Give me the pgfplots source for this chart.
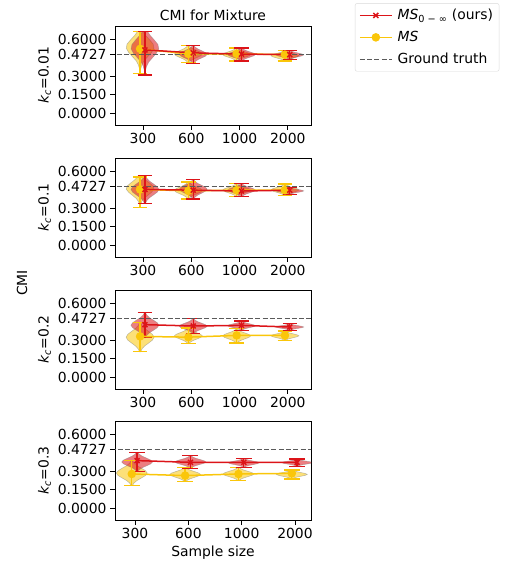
\documentclass[border=0pt]{standalone}
\usepackage{amsmath}
\usepackage{fontspec}
\setmainfont{DejaVu Sans}
\usepackage{pgfplots}
\usepackage{pgfplotstable}
\pgfplotsset{compat=1.18}

\definecolor{rcol}{RGB}{220,20,25}
\definecolor{ycol}{RGB}{250,198,10}
\definecolor{gtcol}{RGB}{90,90,90}
\newcommand\fs{\fontsize{13.9bp}{16bp}\selectfont}

% violin outline, normalised: t = position between min and max, s = signed half width
\pgfplotstableread{
t s
0 0.04
0.1 0.14
0.2 0.33
0.3 0.61
0.4 0.88
0.5 1
0.6 0.88
0.7 0.61
0.8 0.33
0.9 0.14
1 0.04
1 -0.04
0.9 -0.14
0.8 -0.33
0.7 -0.61
0.6 -0.88
0.5 -1
0.4 -0.88
0.3 -0.61
0.2 -0.33
0.1 -0.14
0 -0.04
}\pP
\pgfplotstableread{
t s
0 0.01
0.1 0.04
0.2 0.12
0.3 0.28
0.4 0.55
0.5 0.82
0.6 0.99
0.7 0.93
0.8 0.68
0.9 0.40
1 0.18
1 -0.18
0.9 -0.40
0.8 -0.68
0.7 -0.93
0.6 -0.99
0.5 -0.82
0.4 -0.55
0.3 -0.28
0.2 -0.12
0.1 -0.04
0 -0.01
}\pQ

% per panel: x, MS_0-inf mean/min/max, MS mean/min/max
\pgfplotstableread{
x rm rlo rhi ym ylo yhi
0 0.512 0.309 0.661 0.520 0.322 0.661
1 0.488 0.403 0.549 0.480 0.408 0.549
2 0.478 0.421 0.528 0.480 0.421 0.528
3 0.474 0.434 0.509 0.474 0.421 0.509
}\tA
\pgfplotstableread{
x rm rlo rhi ym ylo yhi
0 0.451 0.339 0.563 0.451 0.304 0.552
1 0.445 0.374 0.531 0.440 0.374 0.512
2 0.438 0.392 0.499 0.445 0.392 0.499
3 0.445 0.411 0.467 0.445 0.400 0.494
}\tB
\pgfplotstableread{
x rm rlo rhi ym ylo yhi
0 0.425 0.319 0.522 0.330 0.206 0.441
1 0.414 0.352 0.473 0.324 0.271 0.397
2 0.419 0.379 0.454 0.338 0.276 0.392
3 0.406 0.379 0.433 0.338 0.297 0.373
}\tC
\pgfplotstableread{
x rm rlo rhi ym ylo yhi
0 0.385 0.296 0.452 0.277 0.183 0.385
1 0.371 0.323 0.425 0.264 0.215 0.331
2 0.371 0.331 0.403 0.277 0.223 0.331
3 0.371 0.339 0.398 0.282 0.237 0.310
}\tD

\newcommand{\vio}[5]{%
  \addplot[fill=#5, fill opacity=0.55, draw=gray, draw opacity=0.5, line width=0.5bp, forget plot]
    table[x expr=#1+0.29*\thisrow{s}, y expr=#2+(#3-#2)*\thisrow{t}] {#4} -- cycle;
}
% extrema: vertical bar from min to max, caps at both ends
\newcommand{\bars}[4]{% table, offset, column prefix, colour
  \addplot[draw=#4, color=#4, line width=1.3bp, forget plot,
    quiver={u=0, v=\thisrow{#3hi}-\thisrow{#3lo}, every arrow/.append style={draw=#4}}]
    table[x expr=\thisrow{x}+(#2), y=#3lo] {#1};
  \addplot[draw=#4, color=#4, line width=1.3bp, forget plot,
    quiver={u=0.3, v=0, every arrow/.append style={draw=#4}}]
    table[x expr=\thisrow{x}+(#2)-0.15, y=#3lo] {#1};
  \addplot[draw=#4, color=#4, line width=1.3bp, forget plot,
    quiver={u=0.3, v=0, every arrow/.append style={draw=#4}}]
    table[x expr=\thisrow{x}+(#2)-0.15, y=#3hi] {#1};
}
\newcommand{\means}[1]{%
  \addplot[gtcol, dash pattern=on 5bp off 2.3bp, line width=1.3bp]
    coordinates {(-1,0.4727) (5,0.4727)};
  \addplot[ycol, line width=1.5bp, mark=*, mark size=3.5bp, mark options={solid}]
    table[x expr=\thisrow{x}-0.06, y=ym] {#1};
  \addplot[rcol, line width=1.5bp, mark=x, mark size=3.5bp, mark options={solid}]
    table[x expr=\thisrow{x}+0.04, y=rm] {#1};
}

\pgfplotsset{panel/.style={
  scale only axis, width=196bp, height=99bp,
  anchor=north west,
  ymin=-0.095, ymax=0.705, xmin=-0.58, xmax=3.48,
  ytick={0,0.15,0.3,0.4727,0.6},
  yticklabels={0.0000,0.1500,0.3000,0.4727,0.6000},
  xtick={0,1,2,3}, xticklabels={300,600,1000,2000},
  xtick pos=bottom, ytick pos=left,
  tick align=outside, major tick length=5bp,
  tick style={black, line width=0.8bp},
  axis line style={black, line width=0.9bp},
  font=\fs, ticklabel style={font=\fs},
  /pgf/number format/assume math mode=true,
  label style={font=\fs},
}}

\begin{document}
\begin{tikzpicture}
\path[use as bounding box] (0,0) rectangle (510bp,-563bp);

\begin{axis}[panel, at={(115bp,-26bp)},
  title={CMI for Mixture}, title style={font=\fs, yshift=-4bp},
  ylabel={\textit{k}$_{\textit{c}}$=0.01},
  reverse legend,
  legend style={at={(1.224,1.23)}, anchor=north west, draw=gray!30,
    rounded corners=2bp, font=\fs, cells={anchor=west}, row sep=6bp,
    column sep=3bp, inner xsep=4bp, inner ysep=4bp},
  legend image code/.code={\draw[mark repeat=2, mark phase=2, #1]
    plot coordinates {(0bp,0bp) (16bp,0bp) (32bp,0bp)};}]
\vio{-0.06}{0.322}{0.661}{\pQ}{ycol}
\vio{0.94}{0.408}{0.549}{\pP}{ycol}
\vio{1.94}{0.421}{0.528}{\pP}{ycol}
\vio{2.94}{0.421}{0.509}{\pP}{ycol}
\vio{0.04}{0.309}{0.661}{\pQ}{rcol}
\vio{1.04}{0.403}{0.549}{\pP}{rcol}
\vio{2.04}{0.421}{0.528}{\pP}{rcol}
\vio{3.04}{0.434}{0.509}{\pP}{rcol}
\bars{\tA}{-0.06}{y}{ycol}
\bars{\tA}{0.04}{r}{rcol}
\means{\tA}
\addlegendentry{Ground truth}
\addlegendentry{\textit{MS}}
\addlegendentry{\textit{MS}$_{\text{0 − ∞}}$ (ours)}
\end{axis}

\begin{axis}[panel, at={(115bp,-158bp)}, ylabel={\textit{k}$_{\textit{c}}$=0.1}]
\vio{-0.06}{0.304}{0.552}{\pQ}{ycol}
\vio{0.94}{0.374}{0.512}{\pP}{ycol}
\vio{1.94}{0.392}{0.499}{\pP}{ycol}
\vio{2.94}{0.400}{0.494}{\pP}{ycol}
\vio{0.04}{0.339}{0.563}{\pP}{rcol}
\vio{1.04}{0.374}{0.531}{\pP}{rcol}
\vio{2.04}{0.392}{0.499}{\pP}{rcol}
\vio{3.04}{0.411}{0.467}{\pP}{rcol}
\bars{\tB}{-0.06}{y}{ycol}
\bars{\tB}{0.04}{r}{rcol}
\means{\tB}
\end{axis}

\begin{axis}[panel, at={(115bp,-290bp)}, ylabel={\textit{k}$_{\textit{c}}$=0.2}]
\vio{-0.06}{0.206}{0.441}{\pP}{ycol}
\vio{0.94}{0.271}{0.397}{\pP}{ycol}
\vio{1.94}{0.276}{0.392}{\pP}{ycol}
\vio{2.94}{0.297}{0.373}{\pP}{ycol}
\vio{0.04}{0.319}{0.522}{\pP}{rcol}
\vio{1.04}{0.352}{0.473}{\pP}{rcol}
\vio{2.04}{0.379}{0.454}{\pP}{rcol}
\vio{3.04}{0.379}{0.433}{\pP}{rcol}
\bars{\tC}{-0.06}{y}{ycol}
\bars{\tC}{0.04}{r}{rcol}
\means{\tC}
\end{axis}

\begin{axis}[panel, at={(115bp,-421bp)}, xmin=-0.375, xmax=3.3,
  ylabel={\textit{k}$_{\textit{c}}$=0.3}, xlabel={Sample size}]
\vio{-0.06}{0.183}{0.385}{\pP}{ycol}
\vio{0.94}{0.215}{0.331}{\pP}{ycol}
\vio{1.94}{0.223}{0.331}{\pP}{ycol}
\vio{2.94}{0.237}{0.310}{\pP}{ycol}
\vio{0.04}{0.296}{0.452}{\pP}{rcol}
\vio{1.04}{0.323}{0.425}{\pP}{rcol}
\vio{2.04}{0.331}{0.403}{\pP}{rcol}
\vio{3.04}{0.339}{0.398}{\pP}{rcol}
\bars{\tD}{-0.06}{y}{ycol}
\bars{\tD}{0.04}{r}{rcol}
\means{\tD}
\end{axis}

\node[rotate=90, font=\fs] at (22bp,-283bp) {CMI};
\end{tikzpicture}
\end{document}
